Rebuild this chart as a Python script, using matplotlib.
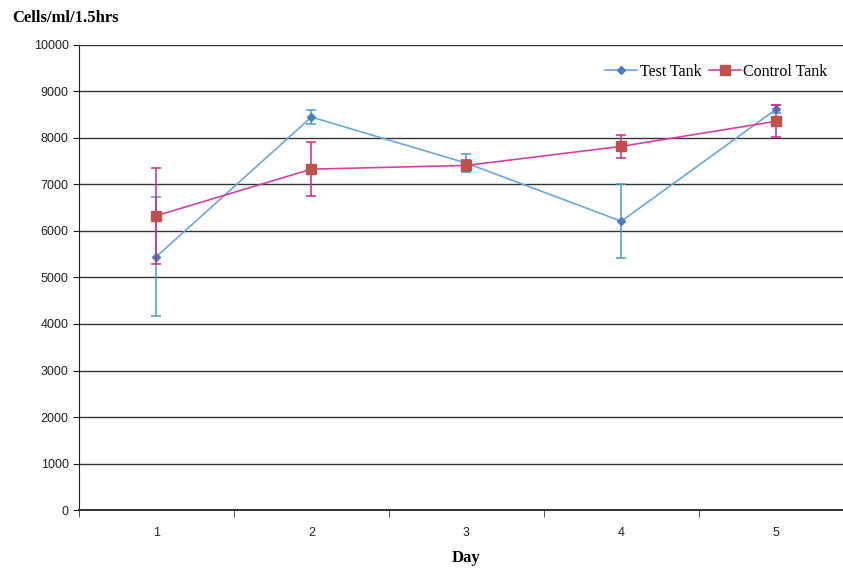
import numpy as np
import matplotlib.pyplot as plt
from matplotlib.lines import Line2D

# datos
days = [1, 2, 3, 4, 5]
test_tank = [5450, 8450, 7460, 6210, 8620]
test_err = [1280, 150, 200, 800, 90]
control_tank = [6330, 7330, 7410, 7820, 8360]
control_err = [1030, 580, 110, 250, 340]

fig = plt.figure(figsize=(8.43, 5.68), dpi=100)
ax = fig.add_axes([0.0937, 0.1021, 0.919, 0.8187])

ax.errorbar(days, test_tank, yerr=test_err, color="#6aa6d6", lw=1.2,
            marker="D", ms=4.5, mfc="#4a7ebb", mec="#4a7ebb",
            ecolor="#4a9bc8", elinewidth=1.1, capsize=3.5, capthick=1.1, zorder=3)
ax.errorbar(days, control_tank, yerr=control_err, color="#d63fa8", lw=1.2,
            marker="s", ms=6.5, mfc="#c0504d", mec="#c0504d",
            ecolor="#c8288e", elinewidth=1.1, capsize=3.5, capthick=1.1, zorder=4)

ax.set_xlim(0.5, 5.5)
ax.set_ylim(0, 10000)
ax.set_yticks(np.arange(0, 10001, 1000))
ax.set_xticks(days)
ax.set_xticks(np.arange(0.5, 5.6, 1), minor=True)
ax.tick_params(axis="x", which="major", length=0, pad=12, labelsize=9, colors="#222222")
ax.tick_params(axis="x", which="minor", length=5, direction="out", color="#333333")
ax.tick_params(axis="y", length=4, direction="out", labelsize=9, colors="#222222")
for lab in ax.get_xticklabels() + ax.get_yticklabels():
    lab.set_family("Liberation Sans")

ax.grid(axis="y", color="#333333", lw=1.0)
ax.set_axisbelow(True)
for s in ["top", "right"]:
    ax.spines[s].set_visible(False)
ax.spines["left"].set_color("#222222")
ax.spines["bottom"].set_color("#222222")
ax.spines["bottom"].set_linewidth(1.3)

fig.text(0.014, 0.968, "Cells/ml/1.5hrs", fontsize=12, fontweight="bold",
         family="Liberation Serif", va="center")
ax.set_xlabel("Day", fontsize=12, fontweight="bold", family="Liberation Serif", labelpad=8)

handles = [
    Line2D([], [], color="#6aa6d6", lw=1.2, marker="D", ms=4.5, mfc="#4a7ebb", mec="#4a7ebb"),
    Line2D([], [], color="#d63fa8", lw=1.2, marker="s", ms=6.5, mfc="#c0504d", mec="#c0504d"),
]
ax.legend(handles, ["Test Tank", "Control Tank"], loc="upper right",
          bbox_to_anchor=(0.985, 0.99), ncol=2, frameon=False,
          prop={"family": "Liberation Serif", "size": 11.5}, handlelength=2.0,
          handletextpad=0.15, columnspacing=0.5)

fig.savefig("out.png", dpi=100)
